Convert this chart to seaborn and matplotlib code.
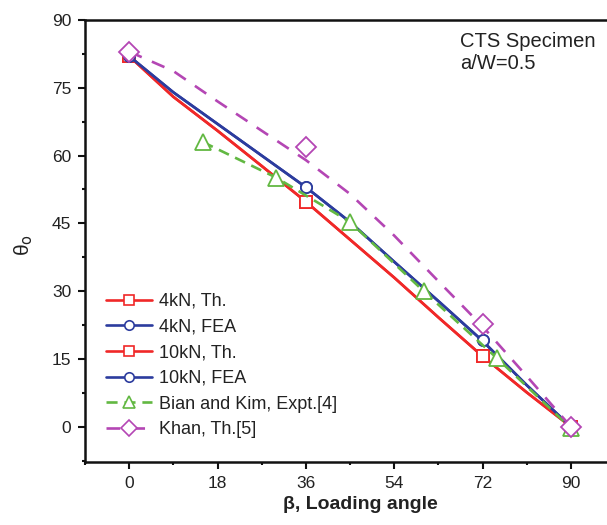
import matplotlib
matplotlib.use("Agg")
import matplotlib.pyplot as plt
from matplotlib.lines import Line2D
from matplotlib.ticker import MultipleLocator
import seaborn as sns
import pandas as pd

# ---- data ----
beta_curve = [0, 9, 18, 27, 36, 45, 54, 63, 72, 81, 90]
th_4kN = [82, 73, 65.5, 57.7, 49.8, 41.4, 33, 24.2, 15.6, 7.6, 0]
fea_4kN = [82, 74, 67, 60, 53, 45.3, 36.5, 27.8, 19, 9.2, 0]
th_10kN = [82, 73, 65.5, 57.7, 49.8, 41.4, 33, 24.2, 15.6, 7.6, 0]
fea_10kN = [82, 74, 67, 60, 53, 45.3, 36.5, 27.8, 19, 9.2, 0]
khan_curve = [83, 78.7, 72, 65.5, 59, 51.5, 42.3, 32.2, 22.2, 11.2, 0]

beta_pts = [0, 36, 72, 90]
th_pts = [82, 49.8, 15.6, 0]
fea_pts = [82, 53, 19.2, 0]
khan_pts = [83, 61.8, 22.7, 0]

beta_expt = [15, 30, 45, 60, 75, 90]
expt = [63, 55.1, 45.3, 30, 15.1, -0.3]

labels = ["4kN, Th.", "4kN, FEA", "10kN, Th.", "10kN, FEA",
          "Bian and Kim, Expt.[4]", "Khan, Th.[5]"]
xticks = [0, 18, 36, 54, 72, 90]
yticks = [0, 15, 30, 45, 60, 75, 90]

RED = "#f02828"
BLUE = "#2c3c9e"
GREEN = "#62b842"
MAG = "#b446b4"
TXT = "#222222"

sns.set_style("ticks")
plt.rcParams["font.family"] = ["Liberation Sans", "DejaVu Sans"]

W, H = 607, 525
fig = plt.figure(figsize=(W / 100, H / 100), dpi=100)
L, R, T, B = 85, 615, 20, 461.7
ax = fig.add_axes([L / W, (H - B) / H, (R - L) / W, (B - T) / H])

lw = 1.9
series = [
    (beta_curve, th_4kN, beta_pts, th_pts, RED, "-", "s", 8),
    (beta_curve, fea_4kN, beta_pts, fea_pts, BLUE, "-", "o", 8),
    (beta_curve, th_10kN, beta_pts, th_pts, RED, "-", "s", 8),
    (beta_curve, fea_10kN, beta_pts, fea_pts, BLUE, "-", "o", 8),
    (beta_expt, expt, beta_expt, expt, GREEN, (0, (4.2, 2.6)), "^", 11),
    (beta_curve, khan_curve, beta_pts, khan_pts, MAG, (0, (5.2, 4.2)), "D", 10),
]

handles = []
for (xc, yc, xp, yp, col, ls, mk, ms), lab in zip(series, labels):
    df = pd.DataFrame({"x": xc, "y": yc})
    sns.lineplot(data=df, x="x", y="y", ax=ax, color=col, lw=lw,
                 linestyle=ls, sort=False, estimator=None)
    ax.plot(xp, yp, linestyle="none", marker=mk, ms=ms,
            mfc="white", mec=col, mew=1.3)
    handles.append(Line2D([], [], color=col, lw=lw, linestyle=ls, marker=mk,
                          ms=ms * 0.85, mfc="white", mec=col, mew=1.2))

ax.set_xlim(-9, 99)
ax.set_ylim(-7.75, 90)
ax.set_xticks(xticks)
ax.set_yticks(yticks)
ax.xaxis.set_minor_locator(MultipleLocator(9))
ax.yaxis.set_minor_locator(MultipleLocator(7.5))
ax.tick_params(which="both", direction="out", colors="#111111",
               labelcolor=TXT, labelsize=12.5)
ax.tick_params(which="major", length=5, width=1.5, pad=5)
ax.tick_params(which="minor", length=2.5, width=1.5)
ax.spines["right"].set_visible(False)
for s in ["top", "left", "bottom"]:
    ax.spines[s].set_linewidth(1.8)
    ax.spines[s].set_color("#111111")

ax.set_xlabel("β, Loading angle", fontsize=14, fontweight="bold", color=TXT)
ax.xaxis.set_label_coords(0.52, -0.078)
ax.set_ylabel("")
fig.text(24 / W, (H - 245) / H, "θ$_\\mathrm{o}$", rotation=90, ha="center",
         va="center", fontsize=15, color=TXT)

ax.text(67.4, 87.3, "CTS Specimen\na/W=0.5", fontsize=14.5, va="top", ha="left",
        color=TXT, linespacing=1.2)

leg = ax.legend(handles=handles, labels=labels, loc="upper left",
                bbox_to_anchor=(0.04, 0.382), frameon=False, fontsize=13,
                handlelength=2.55, handletextpad=0.35, labelspacing=0.48,
                numpoints=1, borderaxespad=0, borderpad=0)
for t in leg.get_texts():
    t.set_color(TXT)

fig.savefig("out.png", dpi=100)
